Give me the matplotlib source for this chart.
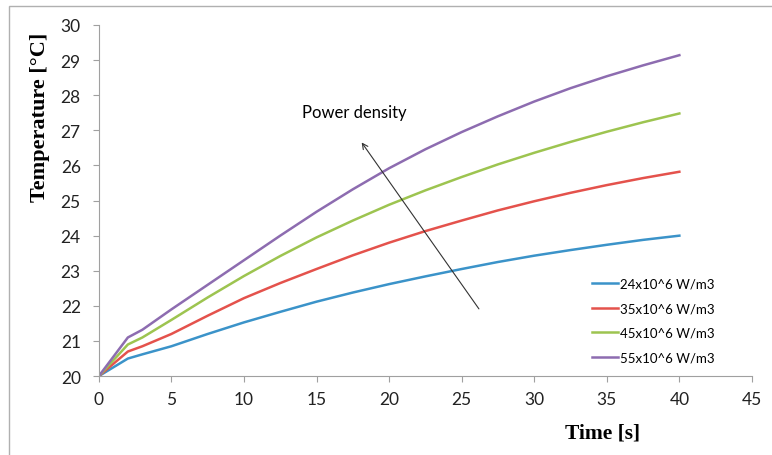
import matplotlib.pyplot as plt
from matplotlib.patches import Rectangle

# data
time = [0, 1, 2, 3, 5, 7.5, 10, 12.5, 15, 17.5, 20, 22.5, 25, 27.5, 30, 32.5, 35, 37.5, 40]
t_24 = [20, 20.25, 20.5, 20.62, 20.85, 21.2, 21.53, 21.83, 22.12, 22.38, 22.62,
        22.84, 23.05, 23.25, 23.43, 23.59, 23.74, 23.88, 24.0]
t_35 = [20, 20.35, 20.7, 20.85, 21.2, 21.72, 22.22, 22.65, 23.05, 23.44, 23.8,
        24.13, 24.43, 24.72, 24.98, 25.22, 25.44, 25.64, 25.82]
t_45 = [20, 20.45, 20.9, 21.1, 21.6, 22.24, 22.85, 23.42, 23.95, 24.43, 24.88,
        25.29, 25.67, 26.03, 26.36, 26.67, 26.96, 27.23, 27.48]
t_55 = [20, 20.55, 21.1, 21.32, 21.9, 22.6, 23.3, 24.0, 24.68, 25.32, 25.92,
        26.46, 26.95, 27.4, 27.82, 28.2, 28.54, 28.85, 29.14]
labels = ['24x10^6 W/m3', '35x10^6 W/m3', '45x10^6 W/m3', '55x10^6 W/m3']
colors = ['#3b93c9', '#e4524c', '#9dc450', '#8d6cb0']

fig = plt.figure(figsize=(7.72, 4.56), dpi=100)
ax = fig.add_axes([0.128, 0.173, 0.846, 0.770])

for ys, lab, c in zip([t_24, t_35, t_45, t_55], labels, colors):
    ax.plot(time, ys, color=c, lw=1.8, label=lab)

ax.set_xlim(0, 45)
ax.set_ylim(20, 30)
ax.set_xticks(range(0, 46, 5))
ax.set_yticks(range(20, 31))
for s in ['top', 'right']:
    ax.spines[s].set_visible(False)
for s in ['left', 'bottom']:
    ax.spines[s].set_color('#a0a0a0')
ax.tick_params(colors='#a0a0a0', labelcolor='#222222', labelsize=12.5, length=4)
ax.tick_params(axis='y', pad=9)
ax.tick_params(axis='x', pad=7)
for lab in ax.get_xticklabels() + ax.get_yticklabels():
    lab.set_family('Lato')

# arrow for increasing power density
ax.annotate('', xy=(18.0, 26.72), xytext=(26.3, 21.85),
            arrowprops=dict(arrowstyle='->', color='#333333', lw=0.8))
ax.text(14.0, 27.52, 'Power density', fontsize=12, family='Lato', va='center')

ax.legend(loc='upper left', bbox_to_anchor=(0.755, 0.28), frameon=False,
          borderpad=0, borderaxespad=0, handlelength=2.0, handletextpad=0.15,
          labelspacing=0.95, prop={'family': 'Lato', 'size': 9.5})

fig.text(0.052, 0.743, 'Temperature [°C]', rotation=90, family='Liberation Serif',
         fontweight='bold', fontsize=16, ha='center', va='center')
fig.text(0.78, 0.05, 'Time [s]', family='Liberation Serif', fontweight='bold',
         fontsize=15.5, ha='center', va='center')

fig.patches.append(Rectangle((0.012, -0.1), 1.1, 1.085, transform=fig.transFigure,
                             fill=False, edgecolor='#b0b0b0', lw=1))

fig.savefig('out.png', dpi=100)
